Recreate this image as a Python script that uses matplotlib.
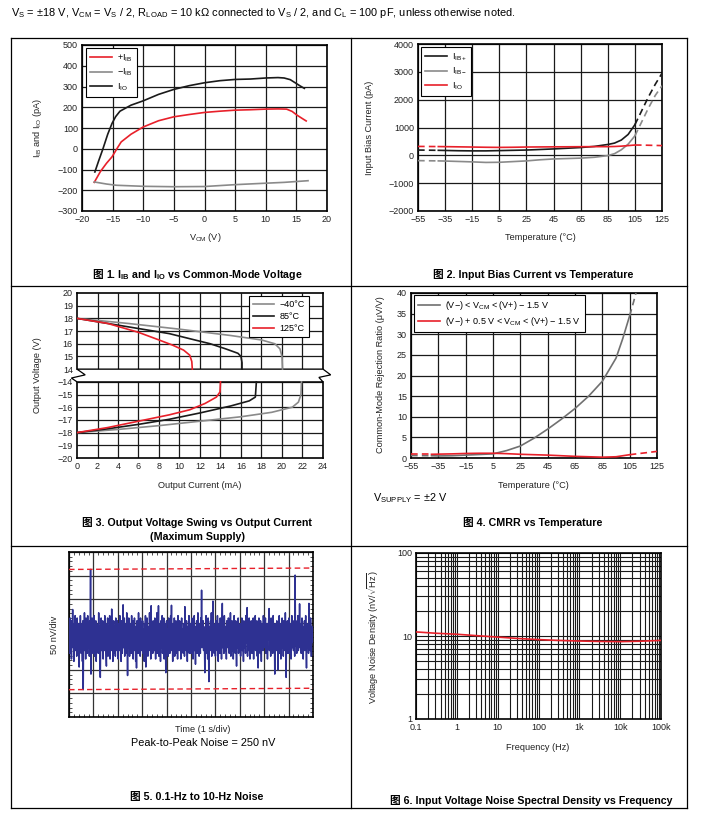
import numpy as np
import matplotlib
matplotlib.use("Agg")
import matplotlib.pyplot as plt
from matplotlib.lines import Line2D
from matplotlib.patches import Polygon
from matplotlib.ticker import MultipleLocator, LogLocator, NullFormatter

W, H = 710, 826

RED = "#e8202a"
GRAY = "#8a8a8a"
BLACK = "#1a1a1a"
NAVY = "#2e3192"

# ---- fig 1: IB / IO vs VCM
vcm_io = [-17.9, -17.3, -16.6, -15.8, -15.1, -14.5, -13.8, -12, -10, -7.5, -5, -2.5, 0, 2.5, 5, 7.5, 10, 12, 13, 14, 14.8, 15.6, 16.3]
i_io = [-112, -60, -2, 70, 122, 155, 181, 210, 231, 262, 286, 304, 318, 328, 334, 336, 341, 343, 341, 333, 318, 303, 291]
vcm_ibp = [-18, -17, -16, -15.1, -14.2, -13.6, -12, -10, -7.5, -5, -2.5, 0, 2.5, 5, 7.5, 10, 12, 13.4, 14.3, 15.1, 16, 16.6]
i_ibp = [-162, -110, -70, -39, 5, 33, 70, 105, 135, 154, 165, 175, 181, 186, 188, 191, 192, 191, 180, 162, 145, 134]
vcm_ibm = [-18, -16, -14.4, -10, -5, 0, 5, 10, 13, 16.9]
i_ibm = [-160, -170, -176, -181, -183, -182, -173, -166, -162, -154]

# ---- fig 2: bias current vs temperature (dashed outside -40..105)
temp2 = [-55, -40, -35, -25, -15, -5, 5, 15, 25, 35, 45, 55, 65, 75, 85, 90, 95, 100, 105, 110, 115, 120, 125]
ib_plus = [190, 180, 175, 165, 160, 160, 170, 180, 190, 210, 230, 255, 280, 320, 390, 440, 550, 750, 1100, 1600, 2100, 2550, 2950]
ib_minus = [-190, -200, -205, -220, -235, -255, -250, -225, -200, -160, -130, -115, -100, -70, -10, 60, 200, 400, 700, 1200, 1700, 2150, 2500]
i_io2 = [320, 315, 312, 305, 298, 290, 285, 290, 298, 302, 305, 307, 310, 312, 312, 318, 330, 350, 370, 368, 362, 356, 350]

# ---- fig 3: output swing (broken axis, +14..+20 and -14..-20)
iout_m40_hi = [0, 5, 10, 15, 18, 19.3, 19.8, 20.0, 20.05]
vout_m40_hi = [18, 17.6, 17.15, 16.65, 16.3, 16.0, 15.6, 15.0, 14]
iout_85_hi = [0, 3, 6, 9, 11, 13, 14.5, 15.7, 16.0, 16.1, 16.1]
vout_85_hi = [18, 17.6, 17.2, 16.8, 16.4, 16.0, 15.6, 15.25, 15.0, 14.5, 14]
iout_125_hi = [0, 3, 6, 8, 9.3, 10.4, 11.0, 11.2, 11.25]
vout_125_hi = [18, 17.6, 16.9, 16.3, 15.9, 15.5, 15.1, 14.6, 14]
iout_m40_lo = [0, 4, 8, 12, 16, 19, 21, 21.6, 21.85, 21.9]
vout_m40_lo = [-18, -17.75, -17.45, -17.1, -16.75, -16.4, -16.0, -15.6, -15, -14]
iout_85_lo = [0, 3, 6, 9, 12, 15, 16.8, 17.4, 17.5]
vout_85_lo = [-18, -17.7, -17.35, -16.95, -16.45, -15.9, -15.5, -15.2, -14]
iout_125_lo = [0, 3, 6, 9, 11, 12.5, 13.6, 13.95, 14.0]
vout_125_lo = [-18, -17.6, -17.1, -16.6, -16.2, -15.7, -15.2, -14.8, -14]

# ---- fig 4: CMRR vs temperature
temp4_g = [-55, -40, -35, -25, -15, -5, 5, 15, 25, 35, 45, 55, 65, 75, 85, 95, 100, 105, 108, 110]
cmrr_g = [0.6, 0.55, 0.5, 0.55, 0.7, 0.85, 1.0, 1.8, 2.9, 4.8, 7.0, 9.4, 12.0, 15.0, 18.6, 24.2, 29, 34.5, 38, 40.5]
temp4_r = [-55, -40, -25, -15, -5, 5, 15, 25, 35, 45, 55, 65, 75, 85, 95, 105, 115, 125]
cmrr_r = [0.9, 0.9, 1.0, 1.1, 1.15, 1.15, 1.05, 0.9, 0.8, 0.7, 0.55, 0.4, 0.3, 0.2, 0.3, 0.8, 1.2, 1.6]

# ---- fig 5: 0.1-10 Hz noise in nV, 60 samples per second
noise_nv = [
    164, 192, 135, 210, 152, 181, 123, 204, 169, 228, 147, 186, 118, 198, 158, 215, 141, 175, 192, 129, 210, 158, 181, 135, 198, 106, 186, 147, 215, 164,
    135, 198, 169, 118, 204, 58, 192, 152, 221, 141, 181, 123, 210, 164, 186, 135, 215, 147, 175, 198, 129, 204, 158, 313, 91, 186, 147, 210, 169, 135,
    192, 152, 215, 129, 181, 164, 204, 118, 198, 147, 186, 169, 135, 221, 158, 192, 123, 84, 175, 210, 141, 186, 158, 204, 123, 192, 169, 141, 215, 152,
    181, 135, 108, 198, 164, 210, 129, 175, 192, 147, 215, 123, 186, 158, 141, 229, 152, 198, 118, 181, 204, 135, 169, 192, 129, 210, 158, 181, 141, 204,
    164, 123, 198, 175, 141, 215, 152, 186, 118, 204, 169, 135, 192, 238, 147, 181, 210, 129, 175, 158, 198, 135, 221, 164, 88, 192, 147, 210, 169, 129,
    198, 158, 181, 135, 215, 147, 175, 204, 123, 186, 164, 210, 141, 192, 118, 181, 104, 204, 158, 186, 135, 221, 152, 175, 198, 129, 210, 164, 141, 192,
    158, 204, 135, 186, 169, 118, 198, 152, 215, 106, 181, 147, 210, 164, 129, 192, 175, 141, 221, 158, 186, 123, 236, 147, 192, 169, 135, 204, 158, 186,
    141, 210, 169, 123, 192, 158, 221, 135, 181, 152, 236, 129, 198, 164, 186, 118, 204, 147, 175, 215, 135, 192, 158, 210, 123, 181, 164, 198, 94, 175,
    204, 147, 186, 164, 129, 210, 152, 192, 135, 175, 215, 158, 237, 141, 186, 118, 198, 169, 147, 210, 129, 181, 158, 204, 135, 192, 169, 123, 215, 152,
    181, 141, 204, 164, 192, 123, 175, 210, 147, 186, 158, 135, 198, 169, 129, 234, 152, 186, 141, 204, 164, 118, 192, 175, 147, 215, 135, 181, 158, 198,
    135, 186, 210, 152, 175, 123, 198, 164, 215, 141, 181, 112, 192, 158, 204, 135, 175, 221, 147, 186, 129, 198, 164, 135, 210, 169, 269, 147, 186, 158,
    204, 141, 181, 164, 94, 192, 152, 215, 135, 186, 169, 123, 210, 158, 75, 192, 175, 141, 204, 152, 221, 129, 181, 164, 246, 147, 198, 135, 186, 169,
    129, 204, 158, 186, 141, 215, 169, 118, 198, 152, 181, 135, 210, 164, 192, 123, 175, 241, 147, 198, 158, 135, 215, 175, 141, 192, 164, 123, 204, 152,
    186, 147, 210, 169, 135, 198, 158, 221, 129, 181, 164, 204, 141, 192, 123, 175, 215, 152, 186, 135, 204, 164, 108, 198, 147, 181, 210, 135, 169, 192,
    152, 198, 129, 181, 164, 210, 141, 192, 158, 118, 204, 169, 147, 186, 135, 215, 158, 181, 232, 129, 198, 164, 141, 210, 175, 123, 192, 152, 204, 169,
    135, 186, 158, 210, 123, 198, 169, 147, 215, 141, 181, 164, 204, 129, 192, 104, 175, 210, 152, 186, 135, 204, 164, 118, 198, 158, 181, 141, 215, 169,
    192, 147, 175, 210, 135, 186, 158, 198, 123, 181, 164, 204, 230, 141, 186, 169, 129, 210, 152, 192, 158, 135, 215, 175, 147, 186, 91, 198, 164, 181,
    141, 204, 169, 192, 100, 186, 152, 215, 135, 175, 198, 123, 181, 164, 210, 147, 192, 129, 204, 158, 186, 141, 221, 169, 84, 192, 152, 204, 135, 181,
    164, 210, 135, 186, 158, 198, 123, 181, 215, 147, 175, 204, 141, 192, 164, 129, 301, 152, 204, 169, 135, 192, 158, 215, 141, 186, 164, 240, 147, 181,
    198, 135, 175, 210, 152, 192, 123, 186, 164, 204, 141, 181, 215, 158, 104, 198, 147, 186, 169, 135, 241, 158, 198, 141, 210, 169, 129, 192, 158, 186,
    175,
]
pp_top = [313, 316]
pp_bot = [58, 61]

# ---- fig 6: noise density
freq6 = [0.1, 0.3, 1, 3, 10, 30, 100, 300, 1000, 3000, 1e4, 3e4, 1e5]
en6 = [11.2, 10.8, 10.5, 10.1, 9.7, 9.35, 9.05, 8.85, 8.7, 8.6, 8.55, 8.65, 8.85]

plt.rcParams.update({
    "font.family": ["Liberation Sans", "Noto Sans CJK SC", "DejaVu Sans"],
    "mathtext.fontset": "custom",
    "mathtext.rm": "Liberation Sans",
    "mathtext.it": "Liberation Sans:italic",
    "mathtext.bf": "Liberation Sans:bold",
    "axes.unicode_minus": True,
})

fig = plt.figure(figsize=(W / 100, H / 100), dpi=100)

CAP = 7.7    # caption size
LBL = 6.6    # axis label size


def px_axes(x0, y0, x1, y1):
    return fig.add_axes([x0 / W, 1 - y1 / H, (x1 - x0) / W, (y1 - y0) / H])


def ftext(x, y, s, **kw):
    kw.setdefault("ha", "center")
    kw.setdefault("va", "center")
    return fig.text(x / W, 1 - y / H, s, **kw)


def style(ax, grid=True):
    for sp in ax.spines.values():
        sp.set_linewidth(1.2)
        sp.set_color("black")
    ax.tick_params(length=0, labelsize=6.5, pad=3, colors="#222")
    if grid:
        ax.grid(True, color=BLACK, lw=0.9)
        ax.set_axisbelow(True)


def legend(ax, handles, loc, anchor, fs=6.5):
    leg = ax.legend(handles=handles, loc=loc, bbox_to_anchor=anchor, borderaxespad=0,
                    fancybox=False, edgecolor="black", framealpha=1, fontsize=fs,
                    handlelength=2.4, labelspacing=0.35, borderpad=0.45, handletextpad=0.6)
    leg.get_frame().set_linewidth(0.8)
    leg.set_zorder(10)
    return leg


def seg(ax, x, y, lo, hi, color):
    x = np.asarray(x, float); y = np.asarray(y, float)
    m = (x >= lo) & (x <= hi)
    ax.plot(x[m], y[m], color=color, lw=1.2, zorder=4)
    ml = x <= lo
    mh = x >= hi
    ax.plot(x[ml], y[ml], color=color, lw=1.2, ls=(0, (4, 2.5)), zorder=4)
    ax.plot(x[mh], y[mh], color=color, lw=1.2, ls=(0, (4, 2.5)), zorder=4)


def caption(x_left, y, rest):
    # CJK glyph as its own text: mathtext cannot fall back to the CJK font
    ftext(x_left, y, "图", fontsize=CAP, fontweight="bold", ha="left")
    ftext(x_left + 14, y, rest, fontsize=CAP, fontweight="bold", ha="left")


# ---------------- fig 1
ax1 = px_axes(82, 45, 327, 211)
style(ax1)
ax1.plot(vcm_io, i_io, color=BLACK, lw=1.2)
ax1.plot(vcm_ibp, i_ibp, color=RED, lw=1.2)
ax1.plot(vcm_ibm, i_ibm, color=GRAY, lw=1.2)
ax1.set_xlim(-20, 20); ax1.set_ylim(-300, 500)
ax1.set_xticks(range(-20, 21, 5)); ax1.set_yticks(range(-300, 501, 100))
legend(ax1, [Line2D([], [], color=RED, lw=1.2, label=r"+I$_\mathrm{IB}$"),
             Line2D([], [], color=GRAY, lw=1.2, label=r"−I$_\mathrm{IB}$"),
             Line2D([], [], color=BLACK, lw=1.2, label=r"I$_\mathrm{IO}$")],
       "upper left", (0.016, 0.982))
ftext(205, 238, r"V$_\mathrm{CM}$ (V)", fontsize=LBL, color="#222")
ftext(38, 128, r"I$_\mathrm{IB}$ and I$_\mathrm{IO}$ (pA)", fontsize=LBL, color="#222", rotation=90)
caption(92, 275, r"1. I$_\mathbf{IB}$ and I$_\mathbf{IO}$ vs Common-Mode Voltage")

# ---------------- fig 2
ax2 = px_axes(418, 44, 662, 211)
style(ax2)
seg(ax2, temp2, ib_plus, -40, 105, BLACK)
seg(ax2, temp2, ib_minus, -40, 105, GRAY)
seg(ax2, temp2, i_io2, -40, 105, RED)
ax2.set_xlim(-55, 125); ax2.set_ylim(-2000, 4000)
ax2.set_xticks(range(-55, 126, 20)); ax2.set_yticks(range(-2000, 4001, 1000))
legend(ax2, [Line2D([], [], color=BLACK, lw=1.2, label=r"I$_\mathrm{IB+}$"),
             Line2D([], [], color=GRAY, lw=1.2, label=r"I$_\mathrm{IB-}$"),
             Line2D([], [], color=RED, lw=1.2, label=r"I$_\mathrm{IO}$")],
       "upper left", (0.012, 0.982))
ftext(540, 237, "Temperature (°C)", fontsize=LBL, color="#222")
ftext(370, 128, "Input Bias Current (pA)", fontsize=LBL, color="#222", rotation=90)
ftext(533, 275, "图 2. Input Bias Current vs Temperature", fontsize=CAP, fontweight="bold")

# ---------------- fig 3 (broken y axis)
def ypos(v):
    v = np.asarray(v, float)
    return np.where(v > 0, v - 7, v + 20)


ax3 = px_axes(77, 293, 323, 458)
style(ax3, grid=False)
ax3.spines["left"].set_visible(False)
ax3.spines["right"].set_visible(False)
ax3.set_xlim(0, 24); ax3.set_ylim(0, 13)
xs3 = list(range(0, 25, 2))
ax3.vlines(xs3[1:-1], 0, 6, color=BLACK, lw=0.9, zorder=1)
ax3.vlines(xs3[1:-1], 7, 13, color=BLACK, lw=0.9, zorder=1)
ax3.hlines(range(1, 13), 0, 24, color=BLACK, lw=0.9, zorder=1)
for xe in (0, 24):
    ax3.plot([xe, xe], [0, 6], color="black", lw=1.2, clip_on=False, zorder=3)
    ax3.plot([xe, xe], [7, 13], color="black", lw=1.2, clip_on=False, zorder=3)
brk = Polygon([(0, 7), (24, 7), (24.75, 6.55), (23.6, 6.35), (24, 6), (0, 6),
               (-0.55, 6.3), (0.8, 6.55), (0, 7)], closed=True, facecolor="white",
              edgecolor="black", lw=0.9, clip_on=False, zorder=3)
ax3.add_patch(brk)
for xi, yi, c in [(iout_m40_hi, vout_m40_hi, GRAY), (iout_85_hi, vout_85_hi, BLACK),
                  (iout_125_hi, vout_125_hi, RED), (iout_m40_lo, vout_m40_lo, GRAY),
                  (iout_85_lo, vout_85_lo, BLACK), (iout_125_lo, vout_125_lo, RED)]:
    ax3.plot(xi, ypos(yi), color=c, lw=1.2, zorder=4)
ticks3 = list(range(-20, -13)) + list(range(14, 21))
ax3.set_yticks(ypos(ticks3))
ax3.set_yticklabels([("−%d" % -t) if t < 0 else str(t) for t in ticks3])
ax3.set_xticks(xs3)
legend(ax3, [Line2D([], [], color=GRAY, lw=1.2, label="−40°C"),
             Line2D([], [], color=BLACK, lw=1.2, label="85°C"),
             Line2D([], [], color=RED, lw=1.2, label="125°C")],
       "upper right", (0.943, 0.982))
ftext(200, 486, "Output Current (mA)", fontsize=LBL, color="#222")
ftext(37, 375, "Output Voltage (V)", fontsize=LBL, color="#222", rotation=90)
ftext(197, 523, "图 3. Output Voltage Swing vs Output Current", fontsize=CAP, fontweight="bold")
ftext(197, 537, "(Maximum Supply)", fontsize=CAP, fontweight="bold")

# ---------------- fig 4
ax4 = px_axes(411, 293, 657, 458)
style(ax4)
seg(ax4, temp4_g, cmrr_g, -40, 105, "#707070")
seg(ax4, temp4_r, cmrr_r, -40, 105, RED)
ax4.set_xlim(-55, 125); ax4.set_ylim(0, 40)
ax4.set_xticks(range(-55, 126, 20)); ax4.set_yticks(range(0, 41, 5))
legend(ax4, [Line2D([], [], color="#707070", lw=1.2, label=r"(V−) < V$_\mathrm{CM}$ < (V+) − 1.5 V"),
             Line2D([], [], color=RED, lw=1.2, label=r"(V−) + 0.5 V < V$_\mathrm{CM}$ < (V+) − 1.5 V")],
       "upper left", (0.012, 0.988))
ftext(533, 486, "Temperature (°C)", fontsize=LBL, color="#222")
ftext(381, 375, "Common-Mode Rejection Ratio (μV/V)", fontsize=LBL, color="#222", rotation=90)
ftext(373, 498, r"V$_\mathrm{SUPPLY}$ = ±2 V", fontsize=7.8, ha="left")
ftext(533, 523, "图 4. CMRR vs Temperature", fontsize=CAP, fontweight="bold")

# ---------------- fig 5
ax5 = px_axes(69, 552, 313, 717)
style(ax5)
ax5.grid(True, color="#333", lw=0.9)
t5 = np.arange(len(noise_nv)) / 60.0
ax5.plot(t5, noise_nv, color=NAVY, lw=1.1, zorder=4)
ax5.plot([0, 10], pp_top, color=RED, lw=1.0, ls=(0, (4, 2.5)), zorder=5)
ax5.plot([0, 10], pp_bot, color=RED, lw=1.0, ls=(0, (4, 2.5)), zorder=5)
ax5.set_xlim(0, 10); ax5.set_ylim(0, 350)
ax5.set_xticks(range(0, 11)); ax5.set_yticks(range(0, 351, 50))
ax5.xaxis.set_minor_locator(MultipleLocator(0.2))
ax5.yaxis.set_minor_locator(MultipleLocator(10))
ax5.tick_params(which="both", labelleft=False, labelbottom=False)
ax5.tick_params(which="minor", direction="in", length=2.2, width=0.6, top=True, right=True, color="#333")
ftext(203, 729, "Time (1 s/div)", fontsize=LBL, color="#222")
ftext(203, 743, "Peak-to-Peak Noise = 250 nV", fontsize=7.8)
ftext(55, 635, "50 nV/div", fontsize=LBL, color="#222", rotation=90)
ftext(197, 797, "图 5. 0.1-Hz to 10-Hz Noise", fontsize=CAP, fontweight="bold")

# ---------------- fig 6
ax6 = px_axes(416, 553, 661, 719)
style(ax6, grid=False)
ax6.set_xscale("log"); ax6.set_yscale("log")
ax6.set_xlim(0.1, 1e5); ax6.set_ylim(1, 100)
ax6.plot(freq6, en6, color=RED, lw=1.2, zorder=4)
ax6.xaxis.set_minor_locator(LogLocator(base=10, subs=range(2, 10), numticks=20))
ax6.yaxis.set_minor_locator(LogLocator(base=10, subs=range(2, 10), numticks=20))
ax6.xaxis.set_minor_formatter(NullFormatter()); ax6.yaxis.set_minor_formatter(NullFormatter())
ax6.set_xticks([0.1, 1, 10, 100, 1e3, 1e4, 1e5])
ax6.set_xticklabels(["0.1", "1", "10", "100", "1k", "10k", "100k"])
ax6.set_yticks([1, 10, 100]); ax6.set_yticklabels(["1", "10", "100"])
ax6.tick_params(which="both", length=0)
ax6.grid(True, which="both", color=BLACK, lw=0.8)
ax6.set_axisbelow(True)
ftext(538, 747, "Frequency (Hz)", fontsize=LBL, color="#222")
ftext(373, 637, r"Voltage Noise Density (nV/$\sqrt{\mathrm{Hz}}$)", fontsize=LBL, color="#222", rotation=90)
ftext(531, 800, "图 6. Input Voltage Noise Spectral Density vs Frequency", fontsize=CAP, fontweight="bold")

# ---------------- header and table rules
ftext(11, 13, r"V$_\mathrm{S}$ = ±18 V, V$_\mathrm{CM}$ = V$_\mathrm{S}$ / 2, R$_\mathrm{LOAD}$ = 10 kΩ connected to V$_\mathrm{S}$ / 2, "
      r"and C$_\mathrm{L}$ = 100 pF, unless otherwise noted.", fontsize=7.9, ha="left")
for yy in (38, 286, 546, 808):
    fig.add_artist(Line2D([11 / W, 687 / W], [1 - yy / H, 1 - yy / H], color="black", lw=0.9))
for xx in (11, 351, 687):
    fig.add_artist(Line2D([xx / W, xx / W], [1 - 38 / H, 1 - 808 / H], color="black", lw=0.9))

fig.savefig("out.png", dpi=100, facecolor="white")
